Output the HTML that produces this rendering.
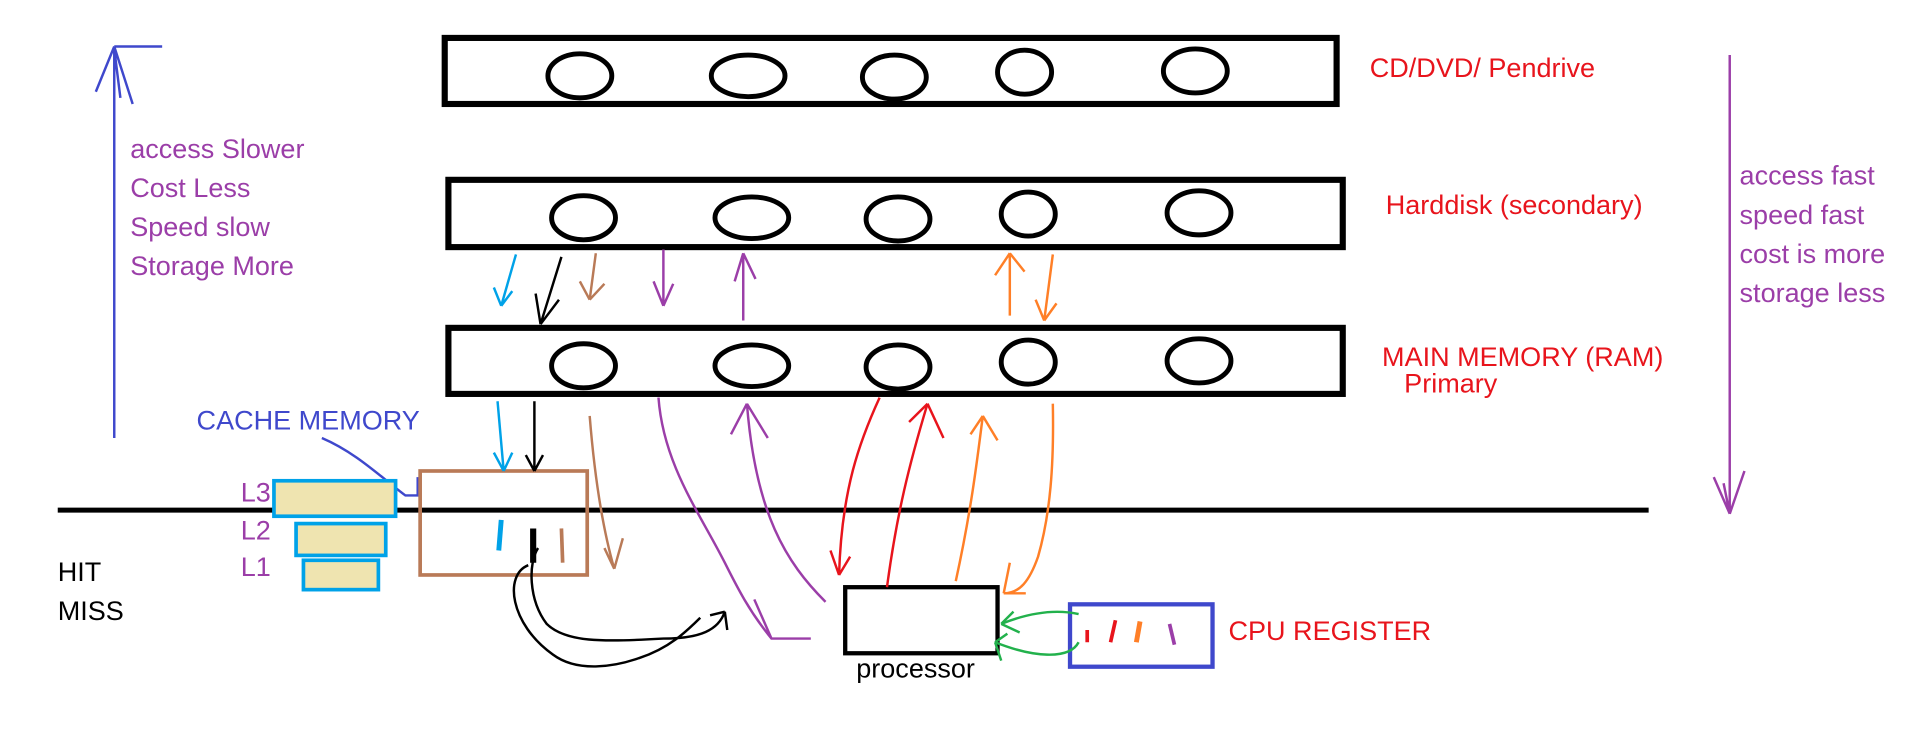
<!DOCTYPE html>
<html><head><meta charset="utf-8"><style>
html,body{margin:0;padding:0;background:#fff;overflow:hidden}
svg{display:block}
text{font-family:"Liberation Sans",sans-serif;font-size:22px}
</style></head><body>
<svg width="1914" height="734" viewBox="0 0 1558 600" preserveAspectRatio="none" xmlns="http://www.w3.org/2000/svg">
<g fill="none" stroke="#000" stroke-width="5">
<rect x="362" y="31" width="726" height="54"/>
<rect x="365" y="147" width="728" height="55"/>
<rect x="365" y="268" width="728" height="54"/>
</g>
<g fill="none" stroke="#000" stroke-width="4">
<ellipse cx="472" cy="62" rx="26" ry="18"/><ellipse cx="609" cy="62" rx="30" ry="17"/><ellipse cx="728" cy="63" rx="26" ry="18"/><ellipse cx="834" cy="59" rx="22" ry="18"/><ellipse cx="973" cy="58" rx="26" ry="18"/>
<ellipse cx="475" cy="178" rx="26" ry="18"/><ellipse cx="612" cy="178" rx="30" ry="17"/><ellipse cx="731" cy="179" rx="26" ry="18"/><ellipse cx="837" cy="175" rx="22" ry="18"/><ellipse cx="976" cy="174" rx="26" ry="18"/>
<ellipse cx="475" cy="299" rx="26" ry="18"/><ellipse cx="612" cy="299" rx="30" ry="17"/><ellipse cx="731" cy="300" rx="26" ry="18"/><ellipse cx="837" cy="296" rx="22" ry="18"/><ellipse cx="976" cy="295" rx="26" ry="18"/>
</g>
<text x="1115" y="63" fill="#e8141c">CD/DVD/ Pendrive</text>
<text x="1128" y="175" fill="#e8141c">Harddisk (secondary)</text>
<text x="1125" y="299" fill="#e8141c">MAIN MEMORY (RAM)</text>
<text x="1143" y="321" fill="#e8141c">Primary</text>
<g fill="#9b3ea8"><text x="106" y="129">access Slower</text><text x="106" y="161">Cost Less</text><text x="106" y="193">Speed slow</text><text x="106" y="225">Storage More</text>
<text x="1416" y="151">access fast</text><text x="1416" y="183">speed fast</text><text x="1416" y="215">cost is more</text><text x="1416" y="247">storage less</text></g>
<g fill="none" stroke-width="2">
<path d="M93 358V38M93 38H132M93 38L78 75M93 38L108 85M93 40L98 80" stroke="#3f48cc"/>
<path d="M1408 45V420M1408 420L1395 390M1408 420L1420 385M1408 420L1403 395" stroke="#9b3ea8"/>
</g>
<line x1="47" y1="417" x2="1342" y2="417" stroke="#000" stroke-width="4"/>
<text x="160" y="351" fill="#3f48cc">CACHE MEMORY</text>
<path d="M262 358C290 370 310 390 330 405H340V390" fill="none" stroke="#3f48cc" stroke-width="2"/>
<rect x="342" y="385" width="136" height="85" fill="none" stroke="#b97a57" stroke-width="3"/>
<g fill="#efe4b0" stroke="#00a2e8" stroke-width="3"><rect x="223" y="393" width="99" height="29"/><rect x="241" y="428" width="73" height="26"/><rect x="247" y="458" width="61" height="24"/></g>
<g fill="#9b3ea8"><text x="196" y="410">L3</text><text x="196" y="441">L2</text><text x="196" y="471">L1</text></g>
<text x="47" y="475">HIT</text><text x="47" y="507">MISS</text>
<rect x="688" y="480" width="124" height="54" fill="none" stroke="#000" stroke-width="3.5"/>
<text x="697" y="554">processor</text>
<rect x="871" y="494" width="116" height="51" fill="none" stroke="#3f48cc" stroke-width="3.5"/>
<text x="1000" y="523" fill="#e8141c">CPU REGISTER</text>
<g fill="none" stroke-width="2">
<path d="M420 208L408 250M408 250L402 235M408 250L417 238" stroke="#00a2e8"/>
<path d="M457 210L440 265M440 265L436 240M440 265L455 245" stroke="#000"/>
<path d="M485 207L480 245M480 245L472 230M480 245L492 232" stroke="#b97a57"/>
<path d="M540 204V250M540 250L532 230M540 250L548 232" stroke="#9b3ea8"/>
<path d="M605 262V207M605 207L598 230M605 207L615 228" stroke="#9b3ea8"/>
<path d="M822 258V207M822 207L810 225M822 207L834 222" stroke="#ff7f27"/>
<path d="M857 208L850 262M850 262L843 245M850 262L860 248" stroke="#ff7f27"/>
<path d="M405 328L410 385M410 385L402 370M410 385L417 370" stroke="#00a2e8"/>
<path d="M435 328V385M435 385L428 372M435 385L442 372" stroke="#000"/>
<path d="M480 340C484 390 490 430 500 465M500 465L492 448M500 465L507 440" stroke="#b97a57"/>
<path d="M536 325C540 380 570 420 590 460C600 480 610 500 628 522H660M628 522L614 490" stroke="#9b3ea8"/>
<path d="M672 492C640 460 615 420 608 330M608 330L595 355M608 330L625 358" stroke="#9b3ea8"/>
<path d="M716 325C700 360 685 400 683 470M683 470L676 450M683 470L692 455" stroke="#e8141c"/>
<path d="M722 480C730 420 740 380 755 330M755 330L740 345M755 330L768 358" stroke="#e8141c"/>
<path d="M778 475C790 420 795 380 800 340M800 340L790 355M800 340L812 360" stroke="#ff7f27"/>
<path d="M857 330C858 380 855 420 845 455C838 475 830 485 817 485M817 485H835M817 485L822 460" stroke="#ff7f27"/>
<path d="M438 448C430 460 430 490 445 510C460 525 490 525 540 522C570 522 585 515 590 500M590 500L578 503M590 500L592 515" stroke="#000"/>
<path d="M430 462C410 470 415 510 450 535C470 550 500 545 520 538C545 530 560 515 570 505" stroke="#000"/>
<path d="M878 502C860 498 840 500 815 510M815 510L825 500M815 510L830 517M878 525C870 540 840 537 810 525M810 525L820 518M810 525L815 540" stroke="#22b14c"/>
<path d="M885 515V525M908 507L904 525" stroke="#e8141c" stroke-width="3"/>
<path d="M928 508L925 525" stroke="#ff7f27" stroke-width="4"/>
<path d="M952 510L956 527" stroke="#9b3ea8" stroke-width="3"/>
<path d="M408 425L406 450" stroke="#00a2e8" stroke-width="4"/>
<path d="M434 432L434 460" stroke="#000" stroke-width="5"/>
<path d="M457 432L458 460" stroke="#b97a57" stroke-width="3"/>
</g>
</svg>
</body></html>
